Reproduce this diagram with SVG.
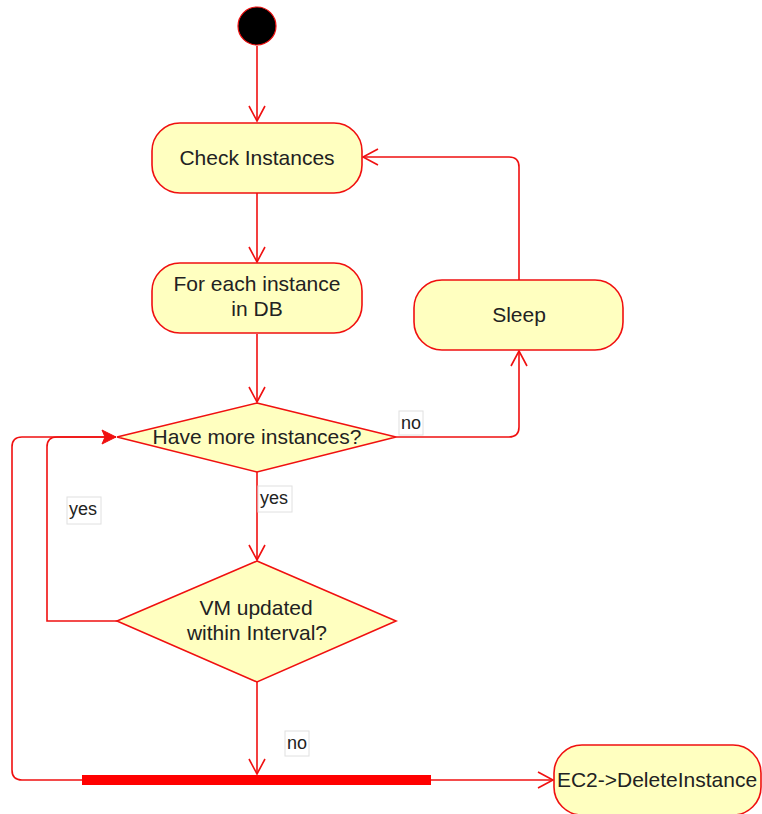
<svg xmlns="http://www.w3.org/2000/svg" width="762" height="814" viewBox="0 0 762 814">
<style>
.node{fill:#ffffc0;stroke:#f01010;stroke-width:1.6}
.t{font-family:"Liberation Sans",Arial,sans-serif;font-size:21px;fill:#222;text-anchor:middle}
.lt{font-family:"Liberation Sans",Arial,sans-serif;font-size:18px;fill:#222}
.lb{fill:#fff;stroke:#e0e0e0;stroke-width:1}
.c{fill:none;stroke:#f01010;stroke-width:1.6}
</style>
<defs>
<marker id="open" markerUnits="userSpaceOnUse" markerWidth="20" markerHeight="20" refX="0" refY="0" viewBox="-16 -10 18 20" orient="auto">
<path d="M-15,-8 L0,0 L-15,8" fill="none" stroke="#f01010" stroke-width="1.6"/>
</marker>
<marker id="filled" markerUnits="userSpaceOnUse" markerWidth="20" markerHeight="20" refX="0" refY="0" viewBox="-16 -10 18 20" orient="auto">
<path d="M-14,-7 L0,0 L-14,7 L-11,0 Z" fill="#f01010" stroke="#f01010" stroke-width="1"/>
</marker>
</defs>
<rect width="762" height="814" fill="#fff"/>

<g id="connectors">
<path class="c" d="M257,46 V121" marker-end="url(#open)"/>
<path class="c" d="M257,193 V262" marker-end="url(#open)"/>
<path class="c" d="M257,334 V402" marker-end="url(#open)"/>
<path class="c" d="M396,437 H509 Q519,437 519,427 V351" marker-end="url(#open)"/>
<path class="c" d="M519,280 V167 Q519,157 509,157 H363" marker-end="url(#open)"/>
<path class="c" d="M257,472 V560" marker-end="url(#open)"/>
<path class="c" d="M117,621 H47 V447 Q47,437 57,437 H116" marker-end="url(#filled)"/>
<path class="c" d="M82,780 H22 Q12,780 12,770 V447 Q12,437 22,437 H116"/>
<path class="c" d="M257,682 V774" marker-end="url(#open)"/>
<path class="c" d="M431,780 H553" marker-end="url(#open)"/>
<g id="label-no-1"><rect class="lb" x="399" y="411" width="24" height="24"/><text class="lt" x="401" y="429">no</text></g>
<g id="label-yes-1"><rect class="lb" x="258" y="486" width="34" height="26"/><text class="lt" x="260" y="504">yes</text></g>
<g id="label-yes-2"><rect class="lb" x="67" y="497" width="34" height="27"/><text class="lt" x="69" y="515">yes</text></g>
<g id="label-no-2"><rect class="lb" x="285" y="731" width="24" height="25"/><text class="lt" x="287" y="749">no</text></g>
</g>

<g id="start"><circle cx="257" cy="26" r="19" fill="#000" stroke="#f01010" stroke-width="1.2"/></g>

<g id="check-instances"><rect class="node" x="152" y="123" width="210" height="70" rx="28"/><text class="t" x="257" y="164.5">Check Instances</text></g>

<g id="for-each"><rect class="node" x="152" y="263" width="210" height="70" rx="28"/><text class="t" x="257" y="291">For each instance</text><text class="t" x="257" y="316">in DB</text></g>

<g id="sleep"><rect class="node" x="414" y="280" width="209" height="70" rx="28"/><text class="t" x="519" y="322">Sleep</text></g>

<g id="have-more"><polygon class="node" points="257,403 396,437 257,472 117,437"/><text class="t" x="257" y="444">Have more instances?</text></g>

<g id="vm-updated"><polygon class="node" points="257,561 396,621 257,682 117,621"/><text class="t" x="256" y="615">VM updated</text><text class="t" x="257" y="640">within Interval?</text></g>

<g id="fork-bar"><rect x="82" y="775" width="349" height="10" fill="#f00"/></g>

<g id="ec2-delete"><rect class="node" x="554" y="745" width="207" height="70" rx="28"/><text class="t" x="657" y="787">EC2-&gt;DeleteInstance</text></g>
</svg>
